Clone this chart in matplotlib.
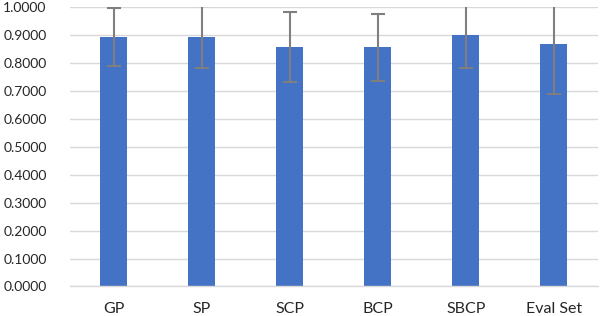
import matplotlib
matplotlib.use("Agg")
import matplotlib.pyplot as plt
import numpy as np

categories = ["GP", "SP", "SCP", "BCP", "SBCP", "Eval Set"]
means = [0.893, 0.892, 0.856, 0.856, 0.899, 0.867]
errors = [0.105, 0.111, 0.125, 0.120, 0.118, 0.178]
yticks = [0.0, 0.1, 0.2, 0.3, 0.4, 0.5, 0.6, 0.7, 0.8, 0.9, 1.0]

plt.rcParams['font.family'] = ['Lato', 'DejaVu Sans']

fig = plt.figure(figsize=(6.0, 3.16), dpi=100)
ax = fig.add_axes([0.116, 0.0934, 0.8803, 0.8845])

x = np.arange(len(categories))
ax.bar(x, means, width=0.31, color="#4472C4", zorder=2)
ax.errorbar(x, means, yerr=errors, fmt="none", ecolor="#7F7F7F",
            elinewidth=1.5, capsize=5, capthick=1.5, zorder=3)

ax.set_xlim(-0.5, len(categories) - 0.5)
ax.set_ylim(0, 1.0)
ax.set_yticks(yticks)
ax.set_yticklabels([f"{v:.4f}" for v in yticks])
ax.set_xticks(x)
ax.set_xticklabels(categories)

ax.yaxis.grid(True, color="#D9D9D9", linewidth=1.0, zorder=0)
ax.set_axisbelow(True)
for s in ["top", "right", "left"]:
    ax.spines[s].set_visible(False)
ax.spines["bottom"].set_color("#D9D9D9")
ax.spines["bottom"].set_linewidth(1.0)

ax.tick_params(axis="y", length=0, pad=16.5, labelsize=10, labelcolor="#262626")
ax.tick_params(axis="x", length=0, pad=11.5, labelsize=11.5, labelcolor="#262626")

fig.savefig("out.png", dpi=100)
